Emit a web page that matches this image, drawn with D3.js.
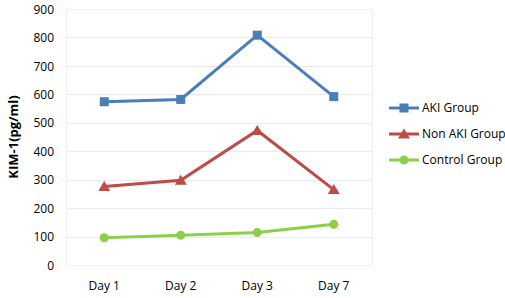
<!DOCTYPE html>
<html>
<head>
<meta charset="utf-8">
<script src="https://cdn.jsdelivr.net/npm/d3@7"></script>
<style>
  body { margin: 0; background: #fff; }
  text { font-family: "Open Sans", "Liberation Sans", sans-serif; fill: #000; }
</style>
</head>
<body>
<svg id="chart" width="505" height="298"></svg>
<script>
'use strict';

// chart data
const days = ['Day 1', 'Day 2', 'Day 3', 'Day 7'];
const akiGroup = [574, 582, 808, 592];
const nonAkiGroup = [276, 298, 473, 265];
const controlGroup = [96, 105, 114, 143];
const yTicks = [0, 100, 200, 300, 400, 500, 600, 700, 800, 900];

const seriesList = [
  { name: 'AKI Group', values: akiGroup, color: '#4a7ebb', marker: 'square' },
  { name: 'Non AKI Group', values: nonAkiGroup, color: '#be4b48', marker: 'triangle' },
  { name: 'Control Group', values: controlGroup, color: '#8ccf48', marker: 'circle' }
];

const svg = d3.select('#chart');
const plot = { left: 66, right: 372, top: 9, bottom: 265 };

const x = d3.scaleBand().domain(days).range([plot.left, plot.right]);
const y = d3.scaleLinear().domain([0, 900]).range([plot.bottom, plot.top]);

// gridlines
svg.append('g')
  .selectAll('line')
  .data(yTicks)
  .join('line')
  .attr('x1', plot.left)
  .attr('x2', plot.right)
  .attr('y1', d => Math.round(y(d)) + 0.5)
  .attr('y2', d => Math.round(y(d)) + 0.5)
  .attr('stroke', '#ececec');

// plot area border
svg.append('rect')
  .attr('x', plot.left + 0.5)
  .attr('y', plot.top + 0.5)
  .attr('width', plot.right - plot.left)
  .attr('height', plot.bottom - plot.top)
  .attr('fill', 'none')
  .attr('stroke', '#f0f0f0');

// y axis
const yAxis = svg.append('g')
  .attr('transform', `translate(${plot.left - 12},0)`)
  .call(d3.axisLeft(y).tickValues(yTicks).tickSize(0).tickPadding(0));
yAxis.select('.domain').remove();
yAxis.selectAll('text').style('font-size', '12px').attr('dy', '0.35em');

// x axis
const xAxis = svg.append('g')
  .attr('transform', `translate(0,${plot.bottom})`)
  .call(d3.axisBottom(x).tickSize(0).tickPadding(16));
xAxis.select('.domain').remove();
xAxis.selectAll('text').style('font-size', '12px');

// y axis title
svg.append('text')
  .attr('transform', `translate(18,${(plot.top + plot.bottom) / 2}) rotate(-90)`)
  .attr('text-anchor', 'middle')
  .style('font-size', '13px')
  .style('font-weight', 'bold')
  .text('KIM-1(pg/ml)');

const line = d3.line()
  .x((d, i) => x(days[i]) + x.bandwidth() / 2)
  .y(d => y(d));

function drawMarker(g, type, cx, cy, color) {
  if (type === 'square') {
    g.append('rect')
      .attr('x', cx - 4.5).attr('y', cy - 4.5)
      .attr('width', 9).attr('height', 9)
      .attr('fill', color);
  } else if (type === 'triangle') {
    g.append('path')
      .attr('d', `M${cx},${cy - 5.5}L${cx + 6},${cy + 4.5}L${cx - 6},${cy + 4.5}Z`)
      .attr('fill', color);
  } else {
    g.append('circle')
      .attr('cx', cx).attr('cy', cy).attr('r', 4.5)
      .attr('fill', color);
  }
}

// series
seriesList.forEach(s => {
  const g = svg.append('g');
  g.append('path')
    .attr('d', line(s.values))
    .attr('fill', 'none')
    .attr('stroke', s.color)
    .attr('stroke-width', 3);
  s.values.forEach((v, i) => {
    drawMarker(g, s.marker, x(days[i]) + x.bandwidth() / 2, y(v), s.color);
  });
});

// legend
const legend = svg.append('g').attr('transform', 'translate(389,108)');
seriesList.forEach((s, i) => {
  const row = legend.append('g').attr('transform', `translate(0,${i * 26})`);
  row.append('line')
    .attr('x1', 0).attr('x2', 30)
    .attr('stroke', s.color)
    .attr('stroke-width', 3);
  drawMarker(row, s.marker, 15, 0, s.color);
  row.append('text')
    .attr('x', 33)
    .attr('dy', '0.35em')
    .style('font-size', '12px')
    .text(s.name);
});
</script>
</body>
</html>
